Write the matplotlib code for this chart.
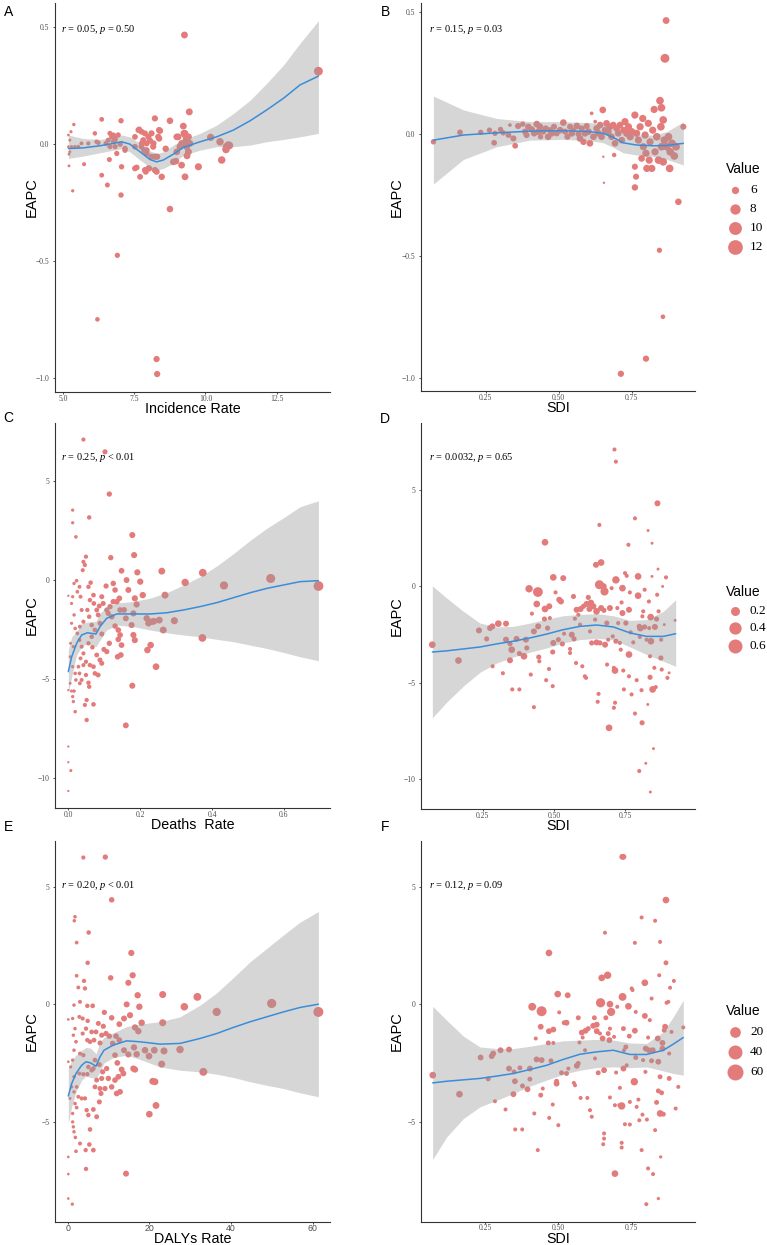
import numpy as np
import matplotlib
matplotlib.use('Agg')
import matplotlib.pyplot as plt

plt.rcParams['mathtext.fontset'] = 'custom'
plt.rcParams['mathtext.it'] = 'Liberation Serif:italic'
plt.rcParams['mathtext.rm'] = 'Liberation Serif'
plt.rcParams['axes.unicode_minus'] = True

# ---------------- DATA ----------------
# Panel A : Incidence Rate vs EAPC (size = incidence rate)
A_x = [5.18,5.27,5.37,5.23,5.18,5.29,5.20,5.23,5.20,5.33,5.41,5.53,5.64,5.73,
       6.11,6.17,6.35,6.35,6.55,6.62,6.20,
       6.64,6.70,6.76,6.82,6.88,6.93,6.64,6.50,7.03,7.05,7.03,6.90,7.17,6.82,
       7.52,7.58,7.67,7.70,7.75,7.81,7.87,7.93,7.99,7.93,7.90,8.02,8.10,8.16,8.22,8.28,8.30,8.37,8.37,8.46,8.75,8.75,8.28,8.30,8.10,7.84,7.75,
       8.96,8.99,9.10,9.16,9.22,9.24,9.28,9.31,9.40,9.40,9.43,9.16,9.34,9.28,9.45,
       9.75,10.18,10.51,10.57,10.72,10.84,10.74,13.97,9.26,
       7.64,8.40,6.76,6.23,6.58,7.17,7.52,7.76,7.93,8.17,8.34,8.22,9.04,9.28,8.99,8.87,10.80,7.52,7.87,7.99,8.22,5.88,6.82,7.00,8.05,9.20,9.35,8.60]
A_y = [0.039,0.053,0.084,0.017,-0.011,-0.011,-0.043,-0.033,-0.093,-0.200,-0.011,-0.011,0.003,-0.086,
       0.046,0.010,0.106,-0.133,-0.175,-0.066,-0.750,
       0.046,0.031,0.010,-0.011,-0.040,0.039,-0.011,0.003,0.100,-0.097,-0.218,-0.476,-0.019,0.017,
       0.031,-0.100,0.063,-0.140,-0.011,0.017,0.046,0.003,0.031,-0.040,-0.118,-0.104,0.046,-0.011,0.110,-0.118,-0.054,0.060,0.024,-0.140,0.100,-0.278,-0.920,-0.984,-0.054,-0.026,0.053,
       -0.073,0.031,-0.011,-0.090,0.077,0.046,-0.140,0.017,0.031,-0.033,0.138,0.003,-0.011,0.039,0.003,
       -0.097,0.029,0.010,-0.068,-0.023,-0.006,-0.011,0.312,0.467,
       0.060,0.057,0.039,0.006,0.017,-0.026,-0.011,0.003,-0.026,0.003,0.031,-0.054,0.031,0.046,-0.033,-0.076,-0.004,-0.104,-0.111,-0.104,-0.111,0.003,0.024,0.000,0.015,0.000,-0.050,-0.020]
A_value = A_x
A_fit_x = [5.18,5.70,6.29,6.76,7.05,7.34,7.70,8.05,8.28,8.52,8.87,9.22,9.81,10.39,10.98,11.57,12.15,12.74,13.32,13.97]
A_fit_y = [-0.019,-0.016,-0.007,0.003,0.010,0.000,-0.033,-0.066,-0.076,-0.068,-0.043,-0.014,0.010,0.031,0.060,0.100,0.146,0.196,0.253,0.291]
A_fit_hi = [0.039,0.024,0.020,0.031,0.039,0.031,0.003,-0.029,-0.040,-0.033,-0.004,0.020,0.046,0.081,0.131,0.188,0.260,0.338,0.431,0.528]
A_fit_lo = [-0.061,-0.051,-0.037,-0.026,-0.019,-0.033,-0.068,-0.100,-0.111,-0.104,-0.083,-0.047,-0.026,-0.011,-0.011,-0.004,0.010,0.020,0.031,0.046]

# Panel B : SDI vs EAPC (size = incidence rate)
B_x = [0.071,0.162,0.233,0.263,0.279,0.282,0.301,0.310,0.328,0.333,
       0.345,0.351,0.361,0.377,0.385,0.390,0.396,0.408,0.416,0.425,
       0.430,0.436,0.438,0.447,0.456,0.464,0.470,0.476,0.484,0.493,
       0.505,0.516,0.522,0.530,0.539,0.545,0.550,0.562,0.568,0.573,
       0.579,0.585,0.590,0.596,0.602,0.607,0.613,0.619,0.625,0.630,
       0.636,0.642,0.647,0.651,0.653,0.655,0.659,0.664,0.670,0.676,
       0.681,0.687,0.690,0.693,0.699,0.704,0.710,0.716,0.722,0.727,
       0.733,0.739,0.745,0.750,0.761,0.761,0.765,0.761,0.767,0.773,
       0.779,0.784,0.788,0.790,0.796,0.799,0.802,0.807,0.810,0.813,
       0.819,0.822,0.827,0.830,0.836,0.842,0.845,0.847,0.850,0.852,
       0.852,0.858,0.858,0.862,0.857,0.864,0.868,0.870,0.876,0.880,
       0.882,0.888,0.896,0.902,0.910,0.927,0.799,0.713]
B_y = [-0.032,0.007,0.007,0.016,-0.036,0.003,0.019,0.005,-0.004,0.037,
       -0.018,-0.048,0.033,0.041,0.010,-0.004,0.030,0.019,0.003,0.041,
       0.010,0.030,-0.011,0.010,0.023,-0.011,0.016,0.003,0.030,0.003,
       0.016,0.047,0.010,-0.011,0.030,0.003,0.016,0.033,0.000,-0.018,
       0.023,-0.032,0.003,0.033,0.010,-0.038,0.085,-0.011,0.051,0.023,
       0.003,0.037,-0.011,0.099,-0.093,-0.200,0.016,0.044,0.010,0.030,
       -0.011,0.037,-0.086,-0.038,0.023,0.003,0.037,-0.025,0.016,0.051,
       0.003,0.030,-0.011,0.010,0.078,-0.134,-0.175,-0.219,0.003,-0.025,
       0.030,-0.100,0.064,-0.052,-0.004,-0.079,-0.141,0.044,-0.107,-0.032,
       -0.141,0.016,0.101,-0.073,-0.011,-0.107,-0.477,0.137,0.030,0.108,
       -0.052,-0.114,0.058,-0.025,-0.750,0.311,0.466,-0.052,-0.011,-0.141,
       -0.073,-0.038,-0.090,-0.052,-0.278,0.030,-0.922,-0.984]
B_value = [7,7.5,7,7,7.5,7,7,7,7.5,5.5,
           8,7.5,8,7,8,8,8.5,8.5,8.5,9,
           9,9,7,8,8,9,8,9,8,8,
           9,9,8,8,8,9,7,9,8,9,
           8,8.5,9,8,9,9,5.5,9,5.5,9,
           9,9,9,9,5,5,9,9,9,9,
           9,9,6,9,9,9,9,9,9,10,
           10,10,10,10,10,8,8,8.5,10,10,
           10,9,10,10,10,10,10,10,10,10,
           10,10,10,10,11,11,6.9,11,11,11,
           11,11,11,11,6.2,13.97,9.26,11,11,11,
           11,11,11,11,8.75,8,8.3,8.3]
B_fit_x = [0.071,0.174,0.288,0.402,0.516,0.607,0.653,0.687,0.721,0.767,0.824,0.870,0.927]
B_fit_y = [-0.025,-0.004,0.005,0.012,0.014,0.010,0.003,-0.014,-0.036,-0.045,-0.048,-0.047,-0.038]
B_fit_hi = [0.156,0.099,0.064,0.051,0.051,0.047,0.041,0.027,0.005,-0.004,-0.004,0.010,0.050]
B_fit_lo = [-0.205,-0.104,-0.052,-0.025,-0.022,-0.027,-0.036,-0.055,-0.077,-0.086,-0.093,-0.104,-0.127]

# Panel C : Deaths Rate vs EAPC (size = deaths rate)
C_x = [0.042,0.102,0.114,0.012,0.058,0.012,0.021,0.178,0.183,0.118,
       0.260,0.374,0.325,0.433,0.563,0.696,0.373,0.295,0.269,0.264,
       0.253,0.238,0.232,0.223,0.218,0.229,0.220,0.244,0.178,0.160,
       0.207,0.200,0.192,0.162,0.148,0.167,0.185,0.190,0.181,0.176,
       0.181,0.185,0.155,0.160,0.144,0.135,0.142,0.125,0.105,0.130,
       0.125,0.116,0.107,0.111,0.121,0.130,0.139,0.144,0.139,0.148,
       0.146,0.137,0.114,0.107,0.099,0.093,0.088,0.083,0.097,0.093,
       0.086,0.079,0.071,0.070,0.062,0.056,0.060,0.053,0.058,0.065,
       0.074,0.065,0.056,0.067,0.079,0.088,0.093,0.083,0.074,0.070,
       0.060,0.049,0.042,0.049,0.056,0.058,0.051,0.070,0.046,0.051,
       0.032,0.037,0.031,0.028,0.034,0.042,0.037,0.031,0.025,0.032,
       0.042,0.037,0.034,0.031,0.040,0.046,0.049,0.042,0.023,0.016,
       0.025,0.012,0.009,0.016,0.009,0.019,0.006,0.014,0.005,0.012,
       0.019,0.021,0.005,0.009,0.016,0.012,0.014,0.019,0.000,0.000,
       0.000,0.000,0.007,0.000]
C_y = [7.09,6.47,4.34,3.53,3.16,2.89,2.18,2.27,1.26,1.13,
       0.45,0.37,-0.12,-0.27,0.08,-0.30,-2.92,-2.05,-0.76,-2.52,
       -2.02,-2.08,-2.10,-2.18,-1.93,-3.28,-3.53,-4.37,-5.33,-7.33,
       -0.76,-0.08,0.39,0.00,0.47,-0.50,-0.92,-1.23,-1.68,-2.27,
       -2.77,-3.03,-1.51,-1.93,-1.51,-1.09,-0.92,-0.17,-0.30,-0.50,
       -1.09,-1.34,-1.51,-1.68,-1.85,-2.32,-2.52,-2.77,-2.99,-3.28,
       -3.78,-3.87,-3.19,-3.61,-3.50,-2.72,-2.18,-1.76,-1.18,-0.84,
       -1.31,-1.51,-1.18,-0.76,-0.13,-0.34,-1.01,-1.51,-1.85,-2.27,
       -2.52,-2.86,-3.19,-3.39,-3.78,-4.03,-4.20,-4.79,-4.71,-4.37,
       -4.29,-4.12,-4.29,-4.79,-5.18,-5.38,-6.05,-6.27,-6.30,-7.06,
       -5.21,-5.04,-4.71,-4.37,-3.95,-3.70,-3.36,-3.03,-2.69,-2.35,
       -2.10,-1.51,-0.84,-0.34,0.50,0.76,1.18,0.92,-0.03,-0.17,
       -0.59,-0.84,-1.18,-1.76,-2.18,-2.44,-3.19,-3.36,-3.87,-4.37,
       -4.71,-5.04,-5.21,-5.60,-5.60,-5.88,-6.13,-6.64,-0.79,-5.55,
       -8.40,-9.19,-9.61,-10.64]
C_value = C_x
C_fit_x = [0.0,0.0093,0.0232,0.0371,0.0529,0.0649,0.077,0.0881,0.1067,0.1345,0.1809,0.2273,0.2737,0.32,0.3664,0.4128,0.4592,0.5056,0.552,0.5983,0.6447,0.6957]
C_fit_y = [-4.62,-3.87,-3.19,-2.77,-2.66,-2.69,-2.72,-2.35,-1.93,-1.71,-1.71,-1.71,-1.65,-1.51,-1.34,-1.14,-0.89,-0.64,-0.42,-0.25,-0.08,-0.03]
C_fit_lo = [-5.71,-4.87,-3.78,-3.36,-3.19,-3.28,-3.36,-3.03,-2.52,-2.27,-2.35,-2.52,-2.66,-2.77,-2.86,-2.99,-3.11,-3.28,-3.45,-3.65,-3.87,-4.07]
C_fit_hi = [-3.53,-2.86,-2.61,-2.18,-2.12,-2.10,-2.08,-1.68,-1.34,-1.16,-1.08,-0.91,-0.64,-0.25,0.17,0.71,1.33,2.00,2.61,3.14,3.70,4.00]

# Panel D : SDI vs EAPC (size = deaths rate)
D_x = [0.073,0.165,0.237,0.264,0.276,0.284,0.285,0.305,0.321,0.332,
       0.332,0.346,0.352,0.346,0.354,0.369,0.379,0.379,0.395,0.402,
       0.405,0.413,0.419,0.423,0.430,0.430,0.440,0.444,0.445,0.447,
       0.449,0.469,0.469,0.467,0.473,0.478,0.484,0.486,0.483,0.496,
       0.496,0.498,0.498,0.506,0.516,0.519,0.525,0.533,0.530,0.536,
       0.557,0.557,0.563,0.569,0.571,0.574,0.578,0.580,0.586,0.592,
       0.594,0.600,0.604,0.609,0.613,0.615,0.621,0.625,0.627,0.630,
       0.633,0.639,0.645,0.648,0.650,0.650,0.654,0.657,0.660,0.660,
       0.662,0.666,0.666,0.674,0.676,0.678,0.680,0.686,0.687,0.691,
       0.694,0.697,0.703,0.707,0.711,0.715,0.713,0.718,0.718,0.718,
       0.715,0.711,0.723,0.726,0.732,0.735,0.738,0.741,0.741,0.744,
       0.746,0.750,0.753,0.756,0.762,0.764,0.764,0.764,0.767,0.770,
       0.773,0.779,0.785,0.785,0.791,0.796,0.796,0.800,0.800,0.802,
       0.804,0.808,0.810,0.811,0.814,0.819,0.819,0.823,0.826,0.830,
       0.831,0.834,0.835,0.838,0.838,0.839,0.840,0.841,0.845,0.845,
       0.847,0.850,0.853,0.855,0.858,0.861,0.863,0.864,0.866,0.868,
       0.876,0.877,0.879,0.882,0.888,0.894,0.899,0.905,0.926]
D_y = [-3.02,-3.84,-2.28,-2.72,-2.16,-2.07,-4.14,-1.93,-4.50,-1.93,
       -2.76,-2.97,-3.28,-3.83,-5.34,-2.72,-5.34,-3.48,-3.62,-2.76,
       -3.19,-0.12,-4.57,-1.41,-6.26,-2.33,-0.91,-0.29,-2.07,-3.66,
       -3.88,2.29,-1.17,-1.69,-4.86,-2.16,-1.03,-1.64,-4.28,-3.40,
       -5.17,0.47,-2.93,-0.31,-2.76,-0.69,-0.78,0.43,-2.98,-2.45,
       -3.24,-3.45,-2.50,-0.52,-2.72,-1.67,-3.97,-1.21,-1.47,-1.98,
       -1.17,-4.14,-1.03,-4.66,-4.74,-0.91,-0.57,-1.17,-2.33,-0.86,
       -2.93,-1.03,-1.72,1.12,-1.29,-2.90,-5.98,-5.57,3.19,0.09,
       -2.93,1.24,-1.12,0.00,-1.24,-0.26,-3.02,-1.90,-4.05,-2.76,
       -7.33,-1.12,-0.09,-2.59,-4.22,-4.36,7.10,6.47,0.34,-2.84,
       -6.03,-6.29,-1.12,-1.90,-2.93,-3.28,-0.83,-0.09,-1.38,-4.36,
       -5.34,0.69,-1.90,0.55,2.16,-1.21,-3.53,-4.66,-0.31,-2.38,
       -5.60,-2.90,3.53,-6.59,-4.86,0.52,-0.48,-9.57,-2.07,-2.62,
       -2.16,-5.38,-7.07,-1.55,-1.29,-0.17,-2.10,-9.17,-2.76,-6.12,
       2.90,-0.78,-2.16,-3.62,-4.71,-10.66,-1.59,-2.84,2.24,0.52,
       -5.34,-8.41,-4.22,-2.10,-5.22,-1.69,-0.43,4.31,0.90,-1.29,
       -3.71,-2.76,-4.31,0.00,-1.98,0.47,-4.74,-4.48,-1.76]
D_value = [0.24,0.24,0.17,0.10,0.17,0.17,0.04,0.24,0.04,0.17,
           0.17,0.10,0.24,0.17,0.04,0.17,0.04,0.10,0.24,0.17,
           0.10,0.33,0.04,0.04,0.04,0.17,0.24,0.70,0.17,0.10,
           0.04,0.24,0.24,0.10,0.04,0.10,0.17,0.04,0.04,0.10,
           0.04,0.24,0.17,0.04,0.10,0.17,0.17,0.17,0.10,0.04,
           0.04,0.04,0.17,0.10,0.10,0.04,0.04,0.17,0.04,0.04,
           0.17,0.04,0.10,0.04,0.04,0.17,0.10,0.17,0.04,0.24,
           0.10,0.17,0.04,0.17,0.24,0.17,0.04,0.04,0.04,0.56,
           0.10,0.24,0.17,0.24,0.10,0.43,0.17,0.10,0.04,0.04,
           0.24,0.17,0.04,0.04,0.04,0.24,0.04,0.04,0.33,0.10,
           0.04,0.04,0.04,0.04,0.04,0.04,0.04,0.24,0.17,0.04,
           0.04,0.04,0.10,0.04,0.04,0.17,0.24,0.04,0.04,0.04,
           0.04,0.04,0.04,0.04,0.04,0.24,0.24,0.04,0.10,0.04,
           0.24,0.04,0.10,0.04,0.04,0.04,0.10,0.005,0.04,0.005,
           0.005,0.04,0.04,0.04,0.10,0.005,0.24,0.24,0.005,0.005,
           0.24,0.005,0.04,0.17,0.04,0.10,0.04,0.17,0.005,0.04,
           0.10,0.04,0.04,0.005,0.005,0.04,0.04,0.005,0.005]
D_fit_x = [0.0732,0.1235,0.182,0.2406,0.2992,0.3577,0.4163,0.4748,0.5334,0.5919,0.6505,0.709,0.7676,0.8261,0.8847,0.928]
D_fit_y = [-3.40,-3.34,-3.24,-3.14,-2.98,-2.84,-2.67,-2.47,-2.24,-2.07,-2.00,-2.10,-2.41,-2.59,-2.59,-2.45]
D_fit_hi = [0.03,-0.60,-1.29,-1.90,-2.10,-2.07,-1.90,-1.69,-1.52,-1.45,-1.41,-1.52,-1.76,-1.72,-1.29,-0.69]
D_fit_lo = [-6.81,-6.00,-5.17,-4.45,-3.97,-3.66,-3.41,-3.19,-2.93,-2.76,-2.69,-2.76,-3.14,-3.53,-3.88,-4.14]

# Panel E : DALYs Rate vs EAPC (size = DALYs rate)
E_x = [3.84,9.22,10.78,1.80,1.63,5.14,2.20,4.90,15.59,15.92,
       10.53,2.20,4.00,2.61,4.24,14.86,23.27,31.76,17.14,28.57,
       36.49,49.96,61.39,3.02,1.55,4.82,6.12,8.98,10.78,14.45,
       15.27,17.55,13.80,12.65,18.12,16.49,17.31,23.27,27.51,33.22,
       23.02,23.59,21.22,18.94,19.92,16.24,16.90,16.08,16.49,14.86,
       13.80,12.65,11.84,11.02,10.20,9.39,8.73,8.33,7.92,7.51,
       6.94,6.45,5.88,5.47,4.90,4.49,3.67,3.02,3.84,5.06,
       5.88,4.82,3.84,2.86,2.20,2.61,3.43,4.24,4.65,5.06,
       5.47,6.29,7.10,7.76,8.16,7.92,6.69,7.10,8.33,9.14,
       9.96,10.78,11.59,12.41,12.00,12.82,13.63,13.22,12.16,11.59,
       9.55,8.57,7.76,6.69,6.29,4.82,3.67,2.86,1.80,1.22,
       1.39,2.04,1.55,1.22,0.73,1.55,0.98,1.55,0.57,1.80,
       2.20,1.22,1.22,1.39,1.55,1.88,2.04,3.02,4.41,5.31,
       6.29,4.49,14.29,20.00,21.63,20.82,21.39,0.16,0.16,0.16,
       0.16,0.16,1.14]
E_y = [6.24,6.26,4.44,3.72,3.55,3.05,2.62,1.76,2.18,1.23,
       1.12,1.21,0.99,0.71,0.67,0.91,0.41,0.31,0.38,-0.11,
       -0.33,0.03,-0.33,0.10,-0.04,-0.07,-0.07,-0.35,-0.58,-0.01,
       -0.47,-0.11,-0.61,-0.85,-0.79,-0.99,-1.15,-0.79,-1.93,-2.88,
       -2.55,-1.99,-1.96,-1.96,-2.21,-1.84,-2.13,-2.74,-2.78,-2.14,
       -1.96,-1.53,-1.36,-1.67,-1.36,-1.25,-0.94,-1.32,-1.65,-0.82,
       -1.18,-1.53,-1.18,-1.60,-0.71,-1.04,-1.25,-2.10,-2.17,-2.67,
       -2.81,-2.98,-2.98,-2.95,-3.52,-3.94,-4.01,-4.01,-4.51,-4.72,
       -5.33,-4.48,-4.79,-4.16,-3.80,-3.59,-3.52,-3.23,-3.16,-3.59,
       -3.16,-3.52,-3.23,-3.09,-3.80,-3.73,-2.95,-2.78,-2.50,-2.17,
       -2.74,-2.88,-2.57,-2.38,-2.74,-1.53,-0.61,-0.54,-1.04,-0.61,
       -1.32,-1.60,-1.96,-2.38,-2.67,-3.09,-3.52,-3.73,-4.01,-4.23,
       -4.40,-4.65,-5.01,-5.22,-5.43,-5.67,-6.26,-5.93,-6.21,-5.97,
       -6.21,-7.01,-7.21,-4.68,-4.31,-3.28,-3.30,-0.65,-2.45,-6.50,
       -7.23,-8.27,-8.51]
E_value = E_x
E_fit_x = [0.16,0.98,2.04,3.43,4.49,5.63,6.94,7.92,8.90,11.18,14.45,17.71,22.61,27.51,32.41,36.49,40.57,44.65,48.73,52.82,56.90,61.39]
E_fit_y = [-3.91,-3.38,-2.95,-2.60,-2.45,-2.50,-2.64,-2.24,-1.96,-1.74,-1.56,-1.60,-1.70,-1.67,-1.46,-1.25,-0.99,-0.75,-0.54,-0.33,-0.14,0.00]
E_fit_lo = [-5.08,-4.37,-3.73,-3.23,-3.06,-3.12,-3.16,-2.88,-2.50,-2.27,-2.17,-2.35,-2.67,-2.81,-2.88,-2.98,-3.12,-3.30,-3.45,-3.59,-3.77,-3.94]
E_fit_hi = [-2.75,-2.38,-2.17,-1.96,-1.84,-1.87,-2.11,-1.60,-1.42,-1.22,-0.95,-0.85,-0.74,-0.54,-0.04,0.48,1.13,1.80,2.37,2.94,3.49,3.94]

# Panel F : SDI vs EAPC (size = DALYs rate)
F_x = [0.072,0.163,0.235,0.261,0.273,0.278,0.284,0.303,0.320,0.332,
       0.332,0.347,0.349,0.352,0.353,0.369,0.377,0.378,0.395,0.403,
       0.403,0.411,0.418,0.423,0.430,0.426,0.440,0.443,0.443,0.440,
       0.447,0.468,0.468,0.466,0.469,0.475,0.483,0.483,0.481,0.494,
       0.500,0.498,0.494,0.503,0.511,0.520,0.528,0.532,0.528,0.534,
       0.553,0.557,0.563,0.568,0.568,0.572,0.576,0.580,0.583,0.591,
       0.593,0.599,0.602,0.608,0.614,0.619,0.623,0.631,0.625,0.631,
       0.636,0.642,0.644,0.648,0.651,0.656,0.656,0.656,0.653,0.659,
       0.662,0.668,0.670,0.674,0.676,0.680,0.676,0.676,0.690,0.693,
       0.693,0.697,0.701,0.708,0.710,0.716,0.716,0.716,0.719,0.722,
       0.722,0.718,0.722,0.724,0.727,0.730,0.733,0.739,0.742,0.744,
       0.744,0.750,0.753,0.759,0.761,0.761,0.764,0.764,0.767,0.773,
       0.776,0.784,0.784,0.787,0.789,0.795,0.795,0.797,0.798,0.800,
       0.802,0.806,0.806,0.809,0.812,0.818,0.818,0.822,0.823,0.830,
       0.830,0.835,0.839,0.841,0.841,0.841,0.844,0.847,0.847,0.847,
       0.849,0.852,0.855,0.855,0.858,0.861,0.864,0.867,0.867,0.869,
       0.875,0.878,0.878,0.881,0.886,0.894,0.900,0.909,0.926]
F_y = [-3.02,-3.83,-2.27,-3.18,-2.21,-2.10,-4.13,-1.96,-4.48,-1.93,
       -2.74,-3.83,-2.88,-3.28,-5.33,-2.71,-5.33,-3.48,-3.62,-2.74,
       -3.19,-0.11,-4.65,-1.46,-6.21,-2.35,-0.96,-0.30,-2.38,-3.87,
       -3.59,2.18,-1.15,-1.65,-4.84,-2.41,-1.08,-1.65,-4.27,-3.28,
       -5.15,0.43,-3.38,-0.35,-2.92,-0.79,-0.79,0.38,-2.95,-2.74,
       -3.35,-3.45,-2.62,-0.58,-2.52,-1.63,-3.99,-1.21,-1.42,-1.96,
       -1.13,-3.99,-1.04,-4.51,-4.79,-0.92,-0.58,-1.15,-2.31,-0.87,
       -2.92,-1.25,0.06,1.12,-1.46,-2.81,-5.50,-5.72,-5.96,3.04,
       -0.58,1.23,-1.25,-1.53,0.00,-0.33,-1.04,-3.97,-1.39,-7.21,
       -4.30,-2.91,-0.11,-4.30,-3.56,-6.10,-5.90,-4.33,0.31,-2.74,
       6.27,6.27,-1.04,-1.96,-5.11,-1.82,-2.60,-0.09,-1.36,-5.12,
       -4.16,0.67,0.60,-3.30,-1.13,2.61,-0.33,-2.27,-4.37,-4.06,
       -4.94,3.69,-6.21,-4.70,-2.38,0.91,-0.50,-2.88,-1.89,-8.51,
       -4.91,-6.99,-1.42,-1.96,-0.68,-2.41,0.24,-1.96,-7.23,3.55,
       -5.36,-4.18,-1.46,-3.69,-2.45,-8.27,1.23,2.65,-3.09,-4.65,
       -6.50,-3.77,-1.65,-1.89,-4.68,-1.11,-0.96,1.76,4.43,0.06,
       0.10,-2.10,-3.16,0.70,-1.18,0.99,-4.44,-3.52,-0.99]
F_value = [20,20,13,7,13,13,3,13,3,13,
           13,13,7,13,3,7,3,7,13,13,
           7,32,3,3,3,13,13,61,13,7,
           3,20,13,7,3,7,13,3,3,7,
           3,20,13,3,7,7,13,13,7,3,
           3,3,13,7,7,3,3,13,3,3,
           13,3,7,3,3,13,7,13,3,13,
           7,3,50,20,13,13,3,3,3,3,
           7,27,7,13,20,36,3,3,3,20,
           3,3,3,3,3,3,3,27,32,13,
           13,13,7,3,3,7,3,20,7,3,
           3,3,3,27,13,3,3,7,3,3,
           3,3,3,3,3,20,13,3,13,3,
           3,3,3,13,3,7,3,13,3,3,
           3,7,13,7,13,1,3,3,7,20,
           1,7,13,13,7,7,13,7,20,3,
           3,3,7,3,3,3,3,3,3]
F_fit_x = [0.0716,0.1193,0.1761,0.233,0.2898,0.3466,0.4034,0.4602,0.517,0.5739,0.6307,0.6875,0.7443,0.8011,0.858,0.892,0.926]
F_fit_y = [-3.35,-3.28,-3.22,-3.16,-3.06,-2.95,-2.78,-2.60,-2.35,-2.13,-2.03,-1.96,-2.14,-2.14,-1.96,-1.70,-1.42]
F_fit_hi = [-0.09,-0.68,-1.36,-1.82,-1.89,-1.89,-1.79,-1.67,-1.56,-1.53,-1.50,-1.53,-1.65,-1.67,-1.18,-0.54,0.17]
F_fit_lo = [-6.61,-5.65,-4.87,-4.37,-4.09,-3.80,-3.49,-3.23,-2.98,-2.81,-2.70,-2.67,-2.70,-2.67,-2.84,-2.95,-3.02]

# Legend keys
B_leg_vals = ['6', '8', '10', '12']
D_leg_vals = ['0.2', '0.4', '0.6']
F_leg_vals = ['20', '40', '60']

# Annotations
stats = {
    'A': r'$\mathit{r}$ = 0.05, $\mathit{p}$ = 0.50',
    'B': r'$\mathit{r}$ = 0.15, $\mathit{p}$ = 0.03',
    'C': r'$\mathit{r}$ = 0.25, $\mathit{p}$ < 0.01',
    'D': r'$\mathit{r}$ = 0.0032, $\mathit{p}$ = 0.65',
    'E': r'$\mathit{r}$ = 0.20, $\mathit{p}$ < 0.01',
    'F': r'$\mathit{r}$ = 0.12, $\mathit{p}$ = 0.09',
}

# ---------------- STYLE / LAYOUT ----------------
W, H, DPI = 767, 1245, 100
SERIF = 'Liberation Serif'
SANS = 'Liberation Sans'
PT_COL = '#E47B7B'
LINE_COL = '#3A8DD8'
BAND_COL = '#999999'
TICK_COL = '#4D4D4D'

fig = plt.figure(figsize=(W / DPI, H / DPI), dpi=DPI)
fig.patch.set_facecolor('white')


def px_axes(left, top, right, bottom):
    return fig.add_axes([left / W, 1 - bottom / H, (right - left) / W, (bottom - top) / H])


def marker_area(v, vmin, vmax, dmin, dmax):
    v = np.asarray(v, float)
    t = np.clip((v - vmin) / (vmax - vmin), 0, 1)
    d_px = dmin + (dmax - dmin) * np.sqrt(t)
    return (d_px * 72.0 / DPI) ** 2


def panel(box, x, y, v, sz, fx, fy, flo, fhi, xlim, ylim, xt, xtl, yt, ytl,
          xlabel, xlab_off, ylab_off, xtick_family=SERIF, xtick_size=5.5):
    ax = px_axes(*box)
    n = min(len(x), len(y), len(v))
    ax.scatter(np.asarray(x[:n]), np.asarray(y[:n]), s=marker_area(v[:n], *sz),
               c=PT_COL, linewidths=0, zorder=2)
    ax.fill_between(fx, flo, fhi, color=BAND_COL, alpha=0.4, linewidth=0, zorder=3)
    ax.plot(fx, fy, color=LINE_COL, lw=1.1, zorder=4, solid_capstyle='round')
    ax.set_xlim(*xlim)
    ax.set_ylim(*ylim)
    for s in ['top', 'right']:
        ax.spines[s].set_visible(False)
    for s in ['left', 'bottom']:
        ax.spines[s].set_color('#333333')
        ax.spines[s].set_linewidth(0.8)
    ax.set_xticks(xt, xtl, fontfamily=xtick_family, fontsize=xtick_size, color=TICK_COL)
    ax.set_yticks(yt, ytl, fontfamily=SERIF, fontsize=5.5, color=TICK_COL)
    ax.tick_params(axis='both', direction='out', length=1.5, width=0.6, colors='#333333',
                   labelcolor=TICK_COL)
    ax.tick_params(axis='x', pad=0.4)
    ax.tick_params(axis='y', pad=2.5)
    ax.set_xlabel(xlabel, fontfamily=SANS, fontsize=10.3, color='black')
    ax.xaxis.set_label_coords(0.5, xlab_off)
    ax.xaxis.label.set_va('center')
    ax.set_ylabel('EAPC', fontfamily=SANS, fontsize=10.5, color='black')
    ax.yaxis.set_label_coords(ylab_off, 0.5)
    ax.yaxis.label.set_va('center')
    return ax


SIZE_AB = (5.15, 13.97, 2.4, 8.9)
SIZE_CD = (0.0, 0.70, 2.3, 9.8)
SIZE_EF = (0.0, 61.4, 2.3, 10.0)

sdi_t = [0.25, 0.50, 0.75]
sdi_tl = ['0.25', '0.50', '0.75']
yt_ab = [0.5, 0.0, -0.5, -1.0]
ytl_ab = ['0.5', '0.0', '\u22120.5', '\u22121.0']
yt_cd = [5, 0, -5, -10]
ytl_cd = ['5', '0', '\u22125', '\u221210']
yt_ef = [5, 0, -5]
ytl_ef = ['5', '0', '\u22125']

panel((55, 3, 330, 392), A_x, A_y, A_value, SIZE_AB, A_fit_x, A_fit_y, A_fit_lo, A_fit_hi,
      (4.708, 14.378), (-1.061, 0.604), [5.0, 7.5, 10.0, 12.5], ['5.0', '7.5', '10.0', '12.5'],
      yt_ab, ytl_ab, 'Incidence Rate', -0.044, -0.0836)
panel((420.7, 3, 695, 391), B_x, B_y, B_value, SIZE_AB, B_fit_x, B_fit_y, B_fit_lo, B_fit_hi,
      (0.0275, 0.9669), (-1.0547, 0.538), sdi_t, sdi_tl,
      yt_ab, ytl_ab, 'SDI', -0.045, -0.0875)
panel((55, 422.7, 330, 808), C_x, C_y, C_value, SIZE_CD, C_fit_x, C_fit_y, C_fit_lo, C_fit_hi,
      (-0.0371, 0.728), (-11.5, 7.94), [0.0, 0.2, 0.4, 0.6], ['0.0', '0.2', '0.4', '0.6'],
      yt_cd, ytl_cd, 'Deaths  Rate', -0.045, -0.0842)
panel((420.7, 422.7, 695, 809), D_x, D_y, D_value, SIZE_CD, D_fit_x, D_fit_y, D_fit_lo, D_fit_hi,
      (0.0323, 0.9959), (-11.54, 8.49), sdi_t, sdi_tl,
      yt_cd, ytl_cd, 'SDI', -0.045, -0.0875)
panel((55, 840.7, 330, 1221.7), E_x, E_y, E_value, SIZE_EF, E_fit_x, E_fit_y, E_fit_lo, E_fit_hi,
      (-3.10, 64.24), (-9.256, 6.956), [0, 20, 40, 60], ['0', '20', '40', '60'],
      yt_ef, ytl_ef, 'DALYs Rate', -0.046, -0.0836, xtick_family=SANS, xtick_size=6.3)
panel((420.7, 840.7, 695, 1221.7), F_x, F_y, F_value, SIZE_EF, F_fit_x, F_fit_y, F_fit_lo, F_fit_hi,
      (0.0308, 0.966), (-9.256, 6.956), sdi_t, sdi_tl,
      yt_ef, ytl_ef, 'SDI', -0.046, -0.0875)

# overlay in pixel coordinates for letters, stats and legends
lax = fig.add_axes([0, 0, 1, 1], zorder=10)
lax.set_xlim(0, W)
lax.set_ylim(H, 0)
lax.axis('off')

letters = {'A': (8.5, 12.5), 'B': (385, 12.5), 'C': (8.5, 418.5),
           'D': (385, 419), 'E': (8.5, 827), 'F': (385, 827)}
for k, (lx, ly) in letters.items():
    lax.text(lx, ly, k, fontfamily=SANS, fontsize=10, ha='center', va='center', color='black')

stat_pos = {'A': (61, 29.3), 'B': (429, 29.3), 'C': (61, 457.3),
            'D': (429, 457.3), 'E': (61, 885), 'F': (429, 885)}
for k, (sx, sy) in stat_pos.items():
    lax.text(sx, sy, stats[k], fontfamily=SERIF, fontsize=7.5, ha='left', va='center', color='black')


def legend(title_y, key_ys, labels, diam_px):
    lax.text(726, title_y, 'Value', fontfamily=SANS, fontsize=10, ha='left', va='center')
    for ky, lab, d in zip(key_ys, labels, diam_px):
        lax.scatter([735], [ky], s=(d * 72.0 / DPI) ** 2, c=PT_COL, linewidths=0)
        lax.text(750, ky, lab, fontfamily=SERIF, fontsize=9.5, ha='left', va='center')


legend(169, [190, 209, 227.7, 246.7], B_leg_vals, [7.3, 10.3, 12.9, 14.7])
legend(591.7, [611, 628.3, 646], D_leg_vals, [9.0, 12.3, 14.0])
legend(1011, [1032.3, 1051.7, 1071.7], F_leg_vals, [10.7, 14.0, 16.0])

fig.savefig('out.png', dpi=DPI, facecolor='white')
